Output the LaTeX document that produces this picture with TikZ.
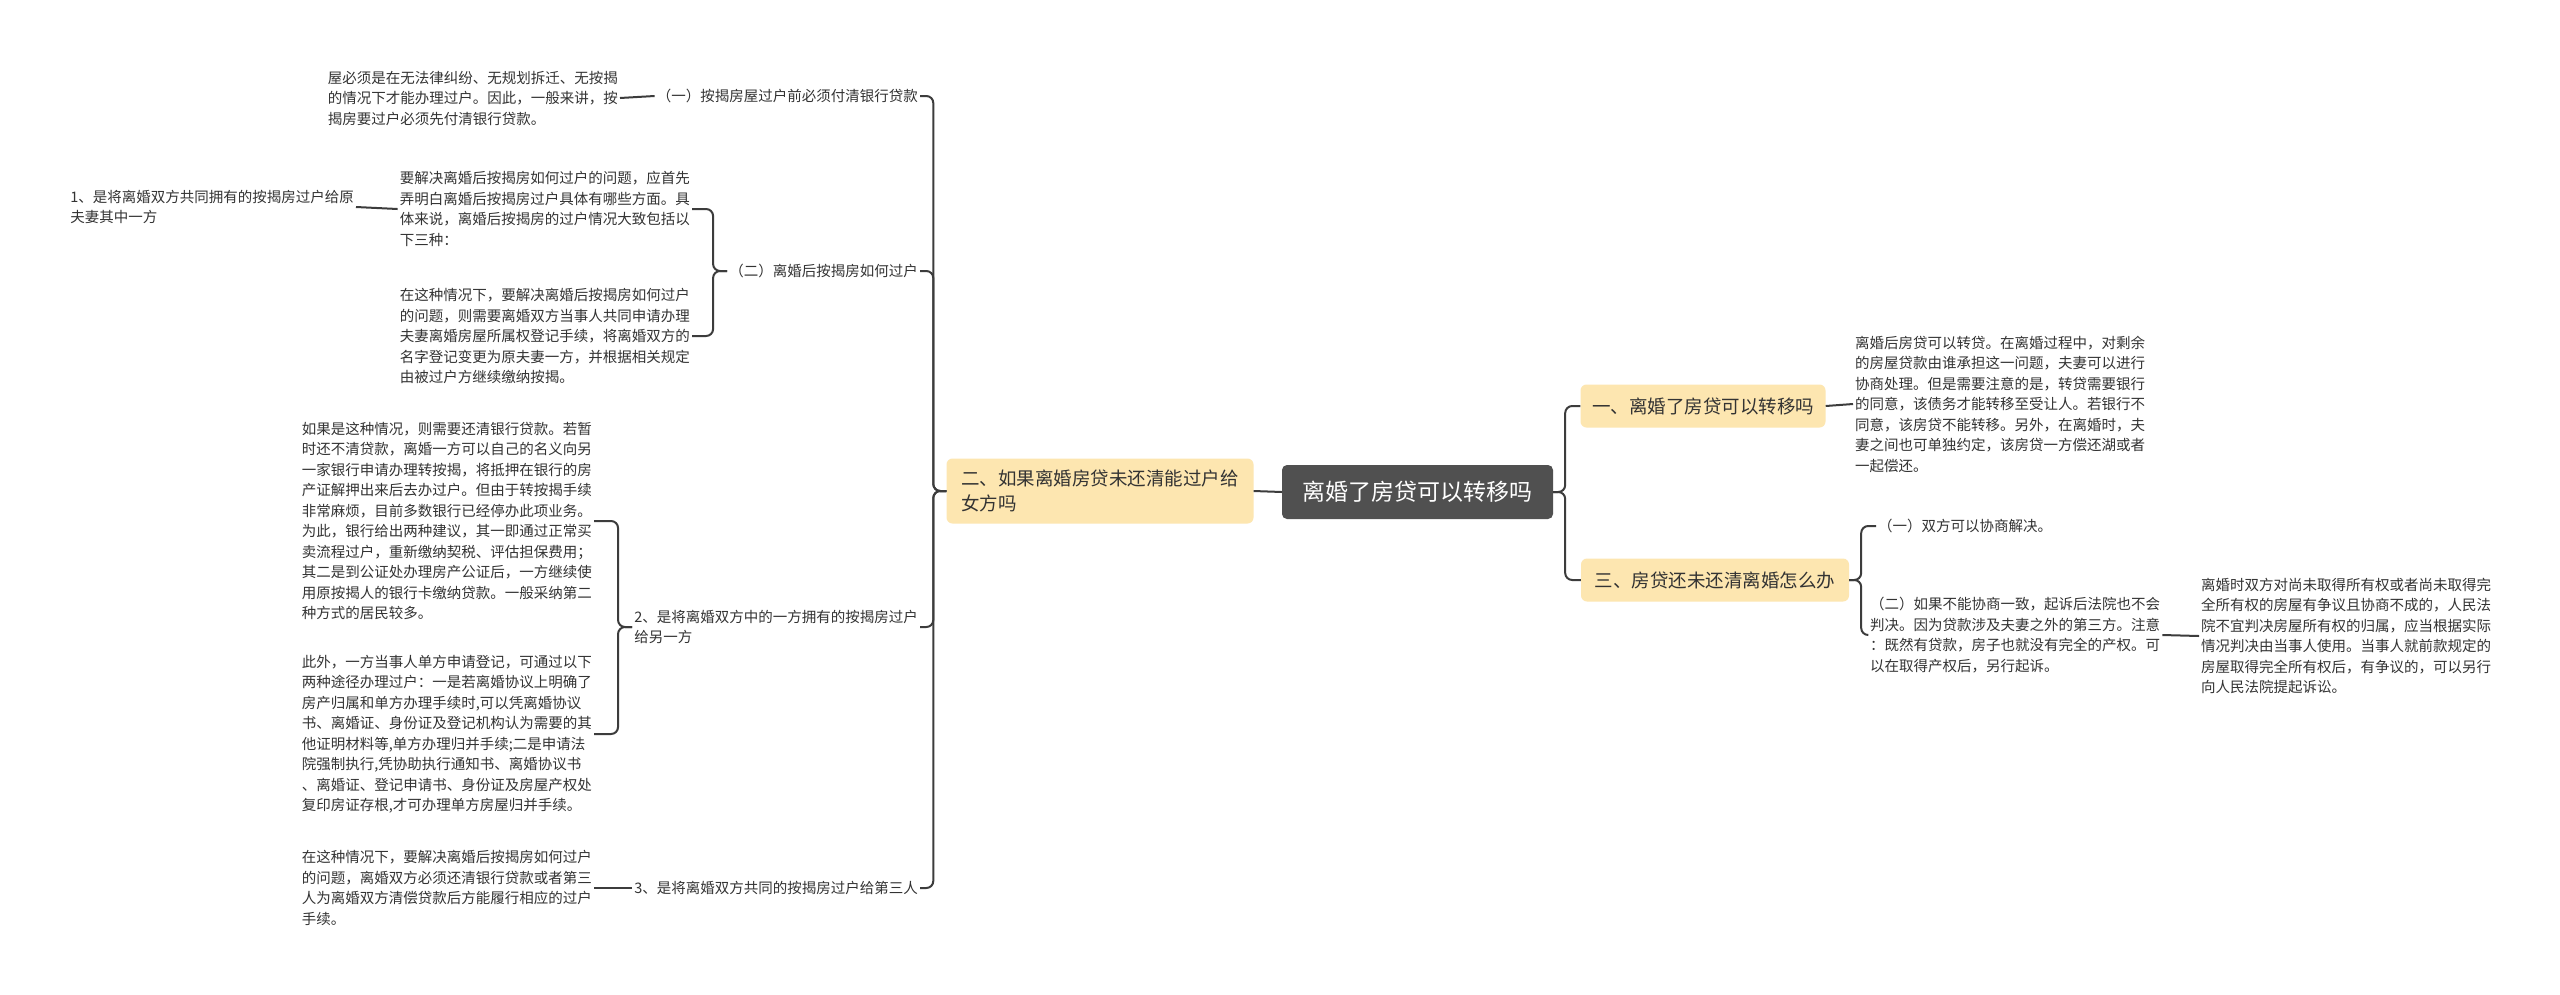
\documentclass[tikz,border=0pt]{standalone}
\usepackage{fontspec}
\setmainfont{Noto Sans CJK SC}
\definecolor{txtgray}{RGB}{51,51,51}
\definecolor{linegray}{RGB}{60,60,60}
\definecolor{topicfill}{RGB}{253,230,176}
\definecolor{rootfill}{RGB}{80,80,80}
\newcommand{\leaffont}{\fontsize{14.5}{20.5}\selectfont}
\tikzset{
  leaf/.style={font=\leaffont, align=left, inner sep=2pt, text=txtgray},
  topic/.style={font=\fontsize{18.5}{25}\selectfont, fill=topicfill, rounded corners=6pt, align=left, text=txtgray, inner xsep=8pt},
  link/.style={draw=linegray, line width=2pt, rounded corners=7pt}
}
\begin{document}
\begin{tikzpicture}[x=1pt,y=-1pt]
\fill[white] (0,0) rectangle (2560,994);
\useasboundingbox (0,0) rectangle (2560,994);

% centre
\node[fill=rootfill, text=white, rounded corners=5pt, minimum width=271, minimum height=54,
  font=\fontsize{23}{28}\selectfont] (root) at (1417.5,492) {离婚了房贷可以转移吗};

% right side
\node[topic, minimum width=245, minimum height=43] (one) at (1703,406) {一、离婚了房贷可以转移吗};
\node[topic, minimum width=268, minimum height=43] (three) at (1715,580) {三、房贷还未还清离婚怎么办};
\node[leaf, anchor=west] (oneText) at (1853,404) {离婚后房贷可以转贷。在离婚过程中，对剩余\\的房屋贷款由谁承担这一问题，夫妻可以进行\\协商处理。但是需要注意的是，转贷需要银行\\的同意，该债务才能转移至受让人。若银行不\\同意，该房贷不能转移。另外，在离婚时，夫\\妻之间也可单独约定，该房贷一方偿还湖或者\\一起偿还。};
\node[leaf, anchor=west] (threeA) at (1876,526) {（一）双方可以协商解决。};
\node[leaf, anchor=west] (threeB) at (1868,635) {（二）如果不能协商一致，起诉后法院也不会\\判决。因为贷款涉及夫妻之外的第三方。注意\\：既然有贷款，房子也就没有完全的产权。可\\以在取得产权后，另行起诉。};
\node[leaf, anchor=west] (threeC) at (2199,636) {离婚时双方对尚未取得所有权或者尚未取得完\\全所有权的房屋有争议且协商不成的，人民法\\院不宜判决房屋所有权的归属，应当根据实际\\情况判决由当事人使用。当事人就前款规定的\\房屋取得完全所有权后，有争议的，可以另行\\向人民法院提起诉讼。};

% left side
\node[topic, minimum width=307, minimum height=65] (two) at (1100,491) {二、如果离婚房贷未还清能过户给\\女方吗};
\node[leaf, anchor=east] (twoA) at (920,96) {（一）按揭房屋过户前必须付清银行贷款};
\node[leaf, anchor=east] (twoAText) at (620,98) {屋必须是在无法律纠纷、无规划拆迁、无按揭\\的情况下才能办理过户。因此，一般来讲，按\\揭房要过户必须先付清银行贷款。};
\node[leaf, anchor=east] (twoB) at (920,271) {（二）离婚后按揭房如何过户};
\node[leaf, anchor=east] (twoB1) at (692,209) {要解决离婚后按揭房如何过户的问题，应首先\\弄明白离婚后按揭房过户具体有哪些方面。具\\体来说，离婚后按揭房的过户情况大致包括以\\下三种：};
\node[leaf, anchor=east] (twoB2) at (692,336) {在这种情况下，要解决离婚后按揭房如何过户\\的问题，则需要离婚双方当事人共同申请办理\\夫妻离婚房屋所属权登记手续，将离婚双方的\\名字登记变更为原夫妻一方，并根据相关规定\\由被过户方继续缴纳按揭。};
\node[leaf, anchor=east] (twoB1x) at (356,207) {1、是将离婚双方共同拥有的按揭房过户给原\\夫妻其中一方};
\node[leaf, anchor=east] (twoC) at (920,627) {2、是将离婚双方中的一方拥有的按揭房过户\\给另一方};
\node[leaf, anchor=east] (twoC1) at (594,521) {如果是这种情况，则需要还清银行贷款。若暂\\时还不清贷款，离婚一方可以自己的名义向另\\一家银行申请办理转按揭，将抵押在银行的房\\产证解押出来后去办过户。但由于转按揭手续\\非常麻烦，目前多数银行已经停办此项业务。\\为此，银行给出两种建议，其一即通过正常买\\卖流程过户，重新缴纳契税、评估担保费用；\\其二是到公证处办理房产公证后，一方继续使\\用原按揭人的银行卡缴纳贷款。一般采纳第二\\种方式的居民较多。};
\node[leaf, anchor=east] (twoC2) at (594,734) {此外，一方当事人单方申请登记，可通过以下\\两种途径办理过户：一是若离婚协议上明确了\\房产归属和单方办理手续时,可以凭离婚协议\\书、离婚证、身份证及登记机构认为需要的其\\他证明材料等,单方办理归并手续;二是申请法\\院强制执行,凭协助执行通知书、离婚协议书\\、离婚证、登记申请书、身份证及房屋产权处\\复印房证存根,才可办理单方房屋归并手续。};
\node[leaf, anchor=east] (twoD) at (920,888) {3、是将离婚双方共同的按揭房过户给第三人};
\node[leaf, anchor=east] (twoD1) at (594,888) {在这种情况下，要解决离婚后按揭房如何过户\\的问题，离婚双方必须还清银行贷款或者第三\\人为离婚双方清偿贷款后方能履行相应的过户\\手续。};

% connectors
\draw[link] (root.east) -- ++(12,0) |- (one.west);
\draw[link] (root.east) -- ++(12,0) |- (three.west);
\draw[link] (one.east) -- (oneText.west);
\draw[link] (three.east) -- ++(12,0) |- (threeA.west);
\draw[link] (three.east) -- ++(12,0) |- (threeB.west);
\draw[link] (threeB.east) -- (threeC.west);
\draw[link] (root.west) -- (two.east);
\foreach \k in {twoA,twoB,twoC,twoD}
  \draw[link] (two.west) -- ++(-13,0) |- (\k.east);
\draw[link] (twoA.west) -- (twoAText.east);
\draw[link] (twoB.west) -- ++(-14,0) |- (twoB1.east);
\draw[link] (twoB.west) -- ++(-14,0) |- (twoB2.east);
\draw[link] (twoB1.west) -- (twoB1x.east);
\draw[link] (twoC.west) -- ++(-14,0) |- (twoC1.east);
\draw[link] (twoC.west) -- ++(-14,0) |- (twoC2.east);
\draw[link] (twoD.west) -- (twoD1.east);
\end{tikzpicture}
\end{document}
